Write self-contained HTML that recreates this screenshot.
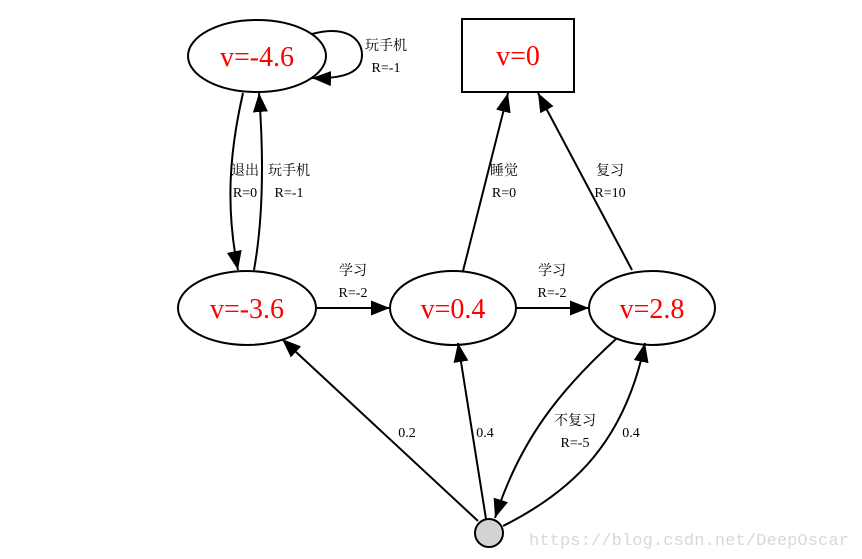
<!DOCTYPE html>
<html><head><meta charset="utf-8"><style>
html,body{margin:0;padding:0;background:#fff}
svg{display:block}
.n{fill:#fff;stroke:#000;stroke-width:2}
.e{fill:none;stroke:#000;stroke-width:2}
.v{font-family:"Liberation Serif",serif;font-size:28px;fill:#f00;text-anchor:middle}
.l{font-family:"Liberation Serif","Noto Serif CJK SC",serif;font-size:14px;fill:#000;text-anchor:middle}
</style></head><body>
<svg width="862" height="559" viewBox="0 0 862 559" xmlns="http://www.w3.org/2000/svg">
<defs>
<marker id="a" markerUnits="userSpaceOnUse" markerWidth="20" markerHeight="16" refX="19" refY="7.5" orient="auto">
<path d="M0,0 L19,7.5 L0,15 Z" fill="#000"/>
</marker>
</defs>
<ellipse class="n" cx="257" cy="56" rx="69" ry="36"/>
<rect class="n" x="462" y="19" width="112" height="73"/>
<ellipse class="n" cx="247" cy="308" rx="69" ry="37"/>
<ellipse class="n" cx="453" cy="308" rx="63" ry="37"/>
<ellipse class="n" cx="652" cy="308" rx="63" ry="37"/>
<circle cx="489" cy="533" r="14" fill="#d3d3d3" stroke="#000" stroke-width="2"/>

<text class="v" x="257" y="66">v=-4.6</text>
<text class="v" x="518" y="65">v=0</text>
<text class="v" x="247" y="318">v=-3.6</text>
<text class="v" x="453" y="318">v=0.4</text>
<text class="v" x="652" y="318">v=2.8</text>

<path class="e" marker-end="url(#a)" d="M312,34 C345,25 362,38 362,55 C362,72 345,79 312,78"/>
<path class="e" marker-end="url(#a)" d="M243,93 C230,150 225,205 238,270"/>
<path class="e" marker-end="url(#a)" d="M254,270 C263,220 264,160 259,93"/>
<path class="e" marker-end="url(#a)" d="M317,308 L390,308"/>
<path class="e" marker-end="url(#a)" d="M516,308 L589,308"/>
<path class="e" marker-end="url(#a)" d="M463,271 L508,93"/>
<path class="e" marker-end="url(#a)" d="M632,270 L538,93"/>
<path class="e" marker-end="url(#a)" d="M478,521 L282,339"/>
<path class="e" marker-end="url(#a)" d="M486,519 L458,343"/>
<path class="e" marker-end="url(#a)" d="M616,339 C560,390 520,440 495,518"/>
<path class="e" marker-end="url(#a)" d="M503,526 C575,490 625,440 645,343"/>

<text class="l" x="386" y="50">玩手机</text>
<text class="l" x="386" y="72">R=-1</text>
<text class="l" x="245" y="175">退出</text>
<text class="l" x="245" y="197">R=0</text>
<text class="l" x="289" y="175">玩手机</text>
<text class="l" x="289" y="197">R=-1</text>
<text class="l" x="504" y="175">睡觉</text>
<text class="l" x="504" y="197">R=0</text>
<text class="l" x="610" y="175">复习</text>
<text class="l" x="610" y="197">R=10</text>
<text class="l" x="353" y="275">学习</text>
<text class="l" x="353" y="297">R=-2</text>
<text class="l" x="552" y="275">学习</text>
<text class="l" x="552" y="297">R=-2</text>
<text class="l" x="407" y="437">0.2</text>
<text class="l" x="485" y="437">0.4</text>
<text class="l" x="575" y="425">不复习</text>
<text class="l" x="575" y="447">R=-5</text>
<text class="l" x="631" y="437">0.4</text>
<text x="689" y="545" font-family="Liberation Mono,monospace" font-size="17" fill="#d8d8d8" text-anchor="middle" textLength="320">https://blog.csdn.net/DeepOscar</text>
</svg>
</body></html>
